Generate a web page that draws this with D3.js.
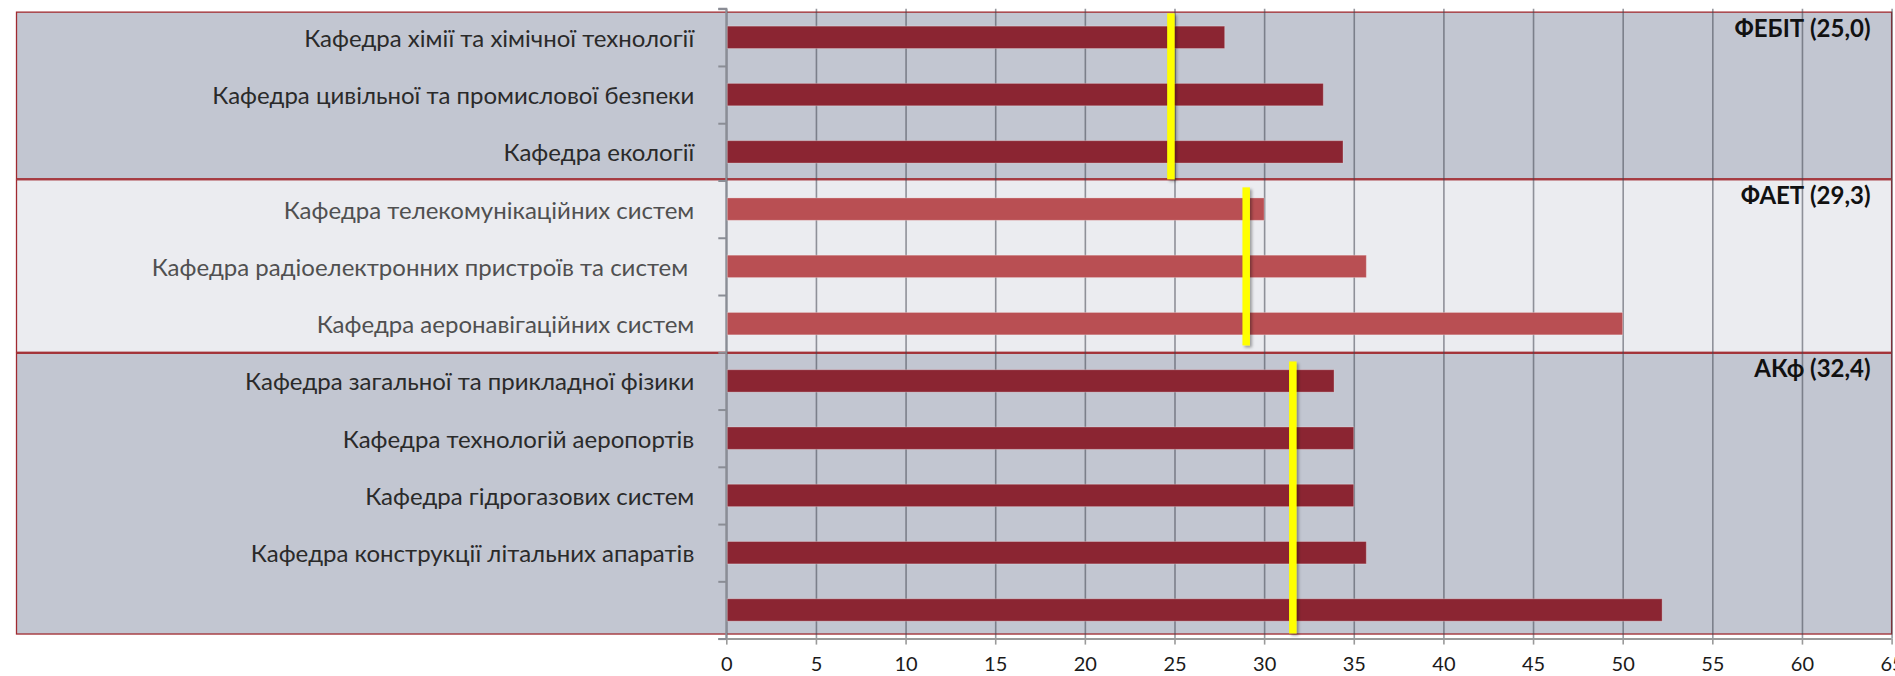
<!DOCTYPE html>
<html>
<head>
<meta charset="utf-8">
<script src="https://cdn.jsdelivr.net/npm/d3@7"></script>
<style>
  html, body { margin: 0; padding: 0; background: #ffffff; }
  svg { display: block; }
  text { font-family: Lato, "Noto Sans", sans-serif; }
</style>
</head>
<body>
<svg id="chart" width="1895" height="676"></svg>
<script>
// ---------- data ----------
const categories = [
  "Кафедра хімії та хімічної технології",
  "Кафедра цивільної та промислової безпеки",
  "Кафедра екології",
  "Кафедра телекомунікаційних систем",
  "Кафедра радіоелектронних пристроїв та систем ",
  "Кафедра аеронавігаційних систем",
  "Кафедра загальної та прикладної фізики",
  "Кафедра технологій аеропортів",
  "Кафедра гідрогазових систем",
  "Кафедра конструкції літальних апаратів",
  ""
];
const values = [27.8, 33.3, 34.4, 30.0, 35.7, 50.0, 33.9, 35.0, 35.0, 35.7, 52.2];
const categoryFaculty = [0, 0, 0, 1, 1, 1, 2, 2, 2, 2, 2];

const facultyLabels = ["ФЕБІТ (25,0)", "ФАЕТ (29,3)", "АКф (32,4)"];
const facultyMarkValues = [24.8, 29.0, 31.6];
// section extents in category-index units
const sectionStart = [0.06, 2.97, 6.0];
const sectionEnd = [2.97, 6.0, 10.92];
// yellow marker extents in category-index units
const markStart = [0.08, 3.12, 6.16];
const markEnd = [2.98, 5.88, 10.91];

const xTicks = d3.range(0, 66, 5);

// ---------- styles ----------
const sectionFill = ["#c2c6d1", "#ebecf0", "#c2c6d1"];
const barFill = ["#8b2532", "#b94f53", "#8b2532"];
const labelColor = ["#2a2a2a", "#505050", "#2a2a2a"];

// ---------- layout ----------
const svg = d3.select("#chart");
const plotTop = 8.7, plotBottom = 638.6;
const x = d3.scaleLinear().domain([0, 65]).range([726.3, 1891.6]);
const y = d3.scaleBand().domain(d3.range(categories.length))
  .range([plotTop, plotBottom]).paddingInner(0.609).paddingOuter(0.3045);
const yIdx = d3.scaleLinear().domain([0, categories.length]).range([plotTop, plotBottom]);

// drop shadow for yellow markers
const defs = svg.append("defs");
const f = defs.append("filter").attr("id", "shadow")
  .attr("filterUnits", "userSpaceOnUse")
  .attr("x", 0).attr("y", 0).attr("width", 1895).attr("height", 676);
f.append("feDropShadow").attr("dx", 2).attr("dy", 2).attr("stdDeviation", 1.5)
  .attr("flood-color", "#000").attr("flood-opacity", 0.35);

// section backgrounds
svg.append("g").selectAll("rect").data(facultyLabels).join("rect")
  .attr("x", 16.5)
  .attr("y", (d, i) => yIdx(sectionStart[i]) + (i > 0 ? 1 : 0))
  .attr("width", x(65) - 16.5)
  .attr("height", (d, i) => yIdx(sectionEnd[i]) - yIdx(sectionStart[i]) - (i > 0 ? 1 : 0))
  .attr("fill", (d, i) => sectionFill[i])
  .attr("stroke", "#a02a30")
  .attr("stroke-width", 1.3);

// vertical gridlines (also act as x ticks)
const grid = svg.append("g").attr("transform", `translate(0,${plotBottom})`)
  .call(d3.axisBottom(x).tickValues(xTicks).tickSize(-(plotBottom - plotTop)).tickFormat(""));
grid.select(".domain").remove();
grid.selectAll(".tick line").attr("stroke", "rgba(66,69,80,0.55)").attr("stroke-width", 1.6);

// x axis
const xa = svg.append("g").attr("transform", `translate(0,${plotBottom})`)
  .call(d3.axisBottom(x).tickValues(xTicks).tickSize(6).tickPadding(12));
xa.select(".domain").attr("stroke", "#9a9a9a").attr("stroke-width", 2).attr("d", `M${x(0) - 8},0.5H${x(65)}`);
xa.selectAll(".tick line").attr("stroke", "#9a9a9a").attr("stroke-width", 1.6);
xa.selectAll(".tick text").attr("fill", "#1a1a1a").style("font-size", "20px")
  .style("font-family", "Lato, sans-serif");

// y axis (line with ticks at band boundaries)
const ya = svg.append("g").attr("transform", `translate(${x(0)},0)`)
  .call(d3.axisLeft(yIdx).tickValues(d3.range(categories.length + 1)).tickSize(8).tickFormat(""));
ya.select(".domain").attr("stroke", "#8a8d95").attr("stroke-width", 2).attr("d", `M-8,${plotTop}H0V${plotBottom}`);
ya.selectAll(".tick line").attr("stroke", "#8a8d95").attr("stroke-width", 2);

// bars
svg.append("g").selectAll("rect").data(values).join("rect")
  .attr("x", x(0) + 1)
  .attr("y", (d, i) => y(i))
  .attr("width", d => x(d) - x(0) - 1)
  .attr("height", y.bandwidth())
  .attr("fill", (d, i) => barFill[categoryFaculty[i]])
  .attr("stroke", "rgba(255,255,255,0.28)")
  .attr("stroke-width", 1);

// category labels
svg.append("g").selectAll("text").data(categories).join("text")
  .attr("x", x(0) - 32)
  .attr("y", (d, i) => y(i) + y.bandwidth() / 2)
  .attr("text-anchor", "end")
  .attr("dominant-baseline", "central")
  .style("white-space", "pre")
  .style("font-size", "24px")
  .attr("fill", (d, i) => labelColor[categoryFaculty[i]])
  .text(d => d);

// yellow faculty markers (drawn as thin rects so the shadow renders)
const markW = 7.5;
svg.append("g").selectAll("rect").data(facultyMarkValues).join("rect")
  .attr("x", d => x(d) - markW / 2)
  .attr("width", markW)
  .attr("y", (d, i) => yIdx(markStart[i]))
  .attr("height", (d, i) => yIdx(markEnd[i]) - yIdx(markStart[i]))
  .attr("fill", "#ffff00")
  .attr("filter", "url(#shadow)");

// faculty labels
svg.append("g").selectAll("text").data(facultyLabels).join("text")
  .attr("x", x(65) - 21)
  .attr("y", (d, i) => yIdx(sectionStart[i]) + 25)
  .attr("text-anchor", "end")
  .style("font-size", "24px")
  .style("font-weight", "bold")
  .attr("fill", "#111")
  .text(d => d);
</script>
</body>
</html>
